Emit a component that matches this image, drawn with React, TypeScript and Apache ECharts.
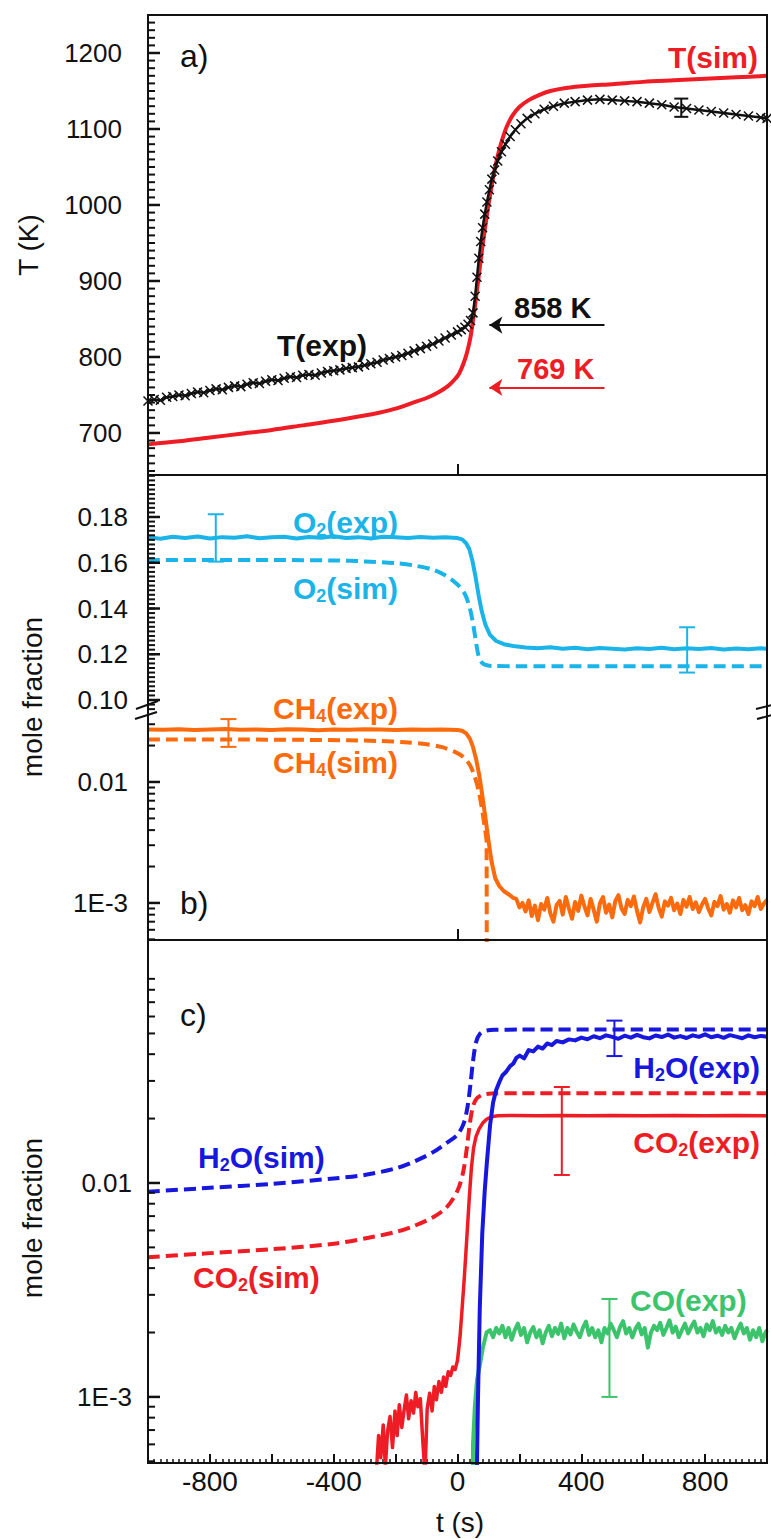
import React, { useEffect, useRef } from "react";
import * as echarts from "echarts";

const FONT = "'Liberation Sans', Arial, Helvetica, sans-serif";
const RED = "#ee1c24";
const CYAN = "#1ab4e8";
const ORANGE = "#fb6a0c";
const BLUE = "#1717dd";
const GREEN = "#3cc46c";
const INK = "#111111";

// ---------- panel a : temperature ----------
const T_EXP: [number, number][] = [
  [-1000, 742], [-980, 744], [-960, 743], [-940, 747], [-920, 748], [-900, 750], [-880, 749], [-860, 752],
  [-840, 754], [-820, 753], [-800, 756], [-780, 758], [-760, 757], [-740, 760], [-720, 762], [-700, 761],
  [-680, 764], [-660, 766], [-640, 765], [-620, 768], [-600, 770], [-580, 769], [-560, 772], [-540, 774],
  [-520, 773], [-500, 776], [-480, 777], [-460, 776], [-440, 779], [-420, 781], [-400, 782], [-380, 783],
  [-360, 785], [-340, 786], [-320, 787], [-300, 789], [-280, 791], [-260, 793], [-240, 796], [-220, 798],
  [-200, 800], [-180, 802], [-160, 805], [-140, 808], [-120, 811], [-100, 814], [-80, 817], [-60, 821],
  [-40, 825], [-20, 829], [0, 833], [12, 836], [24, 839], [34, 843], [42, 848], [50, 858], [57, 880],
  [63, 905], [69, 930], [75, 952], [81, 970], [88, 988], [95, 1004], [103, 1020], [111, 1034], [120, 1046],
  [130, 1058], [142, 1070], [155, 1080], [170, 1090], [187, 1099], [205, 1107], [225, 1114], [250, 1120],
  [280, 1126], [310, 1130], [345, 1134], [380, 1136], [420, 1138], [460, 1139], [500, 1138], [540, 1137],
  [580, 1136], [620, 1134], [660, 1132], [700, 1129], [740, 1127], [780, 1125], [820, 1123], [860, 1121],
  [900, 1119], [940, 1117], [980, 1115], [1000, 1114],
];
const T_SIM: [number, number][] = [
  [-1000, 685], [-900, 689], [-800, 694], [-700, 699], [-600, 704], [-500, 710], [-400, 716], [-300, 723],
  [-250, 727], [-200, 732], [-150, 739], [-100, 746], [-60, 754], [-30, 762], [-10, 770], [5, 778],
  [20, 792], [32, 808], [42, 826], [50, 848], [58, 872], [66, 898], [74, 924], [82, 950], [90, 973],
  [98, 995], [106, 1015], [115, 1036], [124, 1054], [134, 1071], [146, 1088], [160, 1104], [178, 1118],
  [200, 1129], [230, 1138], [265, 1145], [300, 1150], [350, 1154], [420, 1157], [500, 1159], [600, 1162],
  [700, 1164], [800, 1166], [900, 1168], [1000, 1170],
];
const T_ERR: [number, number, number][] = [[723, 1116, 1140]];
const T_TICKS = [700, 800, 900, 1000, 1100, 1200];
// arrows: [t start, t end, T level]
const ARROW_EXP = [475, 103, 842];
const ARROW_SIM = [475, 103, 760];

// ---------- panel b : O2 (linear) and CH4 (log) ----------
const O2_EXP: [number, number][] = [
  [-1000, 0.1712], [-960, 0.1705], [-920, 0.1714], [-880, 0.1708], [-840, 0.1715], [-800, 0.1706],
  [-760, 0.1712], [-720, 0.1709], [-680, 0.1716], [-640, 0.1707], [-600, 0.1711], [-560, 0.1714],
  [-520, 0.1706], [-480, 0.1713], [-440, 0.1709], [-400, 0.1716], [-360, 0.1708], [-320, 0.1712],
  [-280, 0.1706], [-240, 0.1714], [-200, 0.1711], [-160, 0.1708], [-120, 0.1713], [-80, 0.1709],
  [-40, 0.1711], [0, 0.1708], [15, 0.1702], [28, 0.1685], [38, 0.166], [48, 0.161], [58, 0.154],
  [68, 0.146], [78, 0.139], [90, 0.133], [105, 0.1285], [125, 0.1258], [150, 0.1244], [180, 0.1236],
  [220, 0.123], [260, 0.1226], [300, 0.1231], [340, 0.1224], [380, 0.1228], [420, 0.1222], [460, 0.1227],
  [500, 0.1224], [540, 0.1221], [580, 0.1226], [620, 0.1223], [660, 0.1228], [700, 0.1222], [740, 0.1226],
  [780, 0.1223], [820, 0.1227], [860, 0.1221], [900, 0.1225], [940, 0.1222], [980, 0.1226], [1000, 0.1224],
];
const O2_SIM: [number, number][] = [
  [-1000, 0.1612], [-600, 0.1612], [-400, 0.161], [-300, 0.1606], [-200, 0.1598], [-140, 0.1588],
  [-80, 0.157], [-40, 0.1545], [0, 0.1505], [25, 0.146], [40, 0.14], [50, 0.1335], [58, 0.127],
  [66, 0.1205], [75, 0.117], [88, 0.1155], [110, 0.1149], [200, 0.1148], [1000, 0.1148],
];
const O2_ERR: [number, number, number][] = [[-781, 0.1605, 0.1812], [742, 0.112, 0.1318]];
const O2_TICKS = [0.1, 0.12, 0.14, 0.16, 0.18];

const CH4_EXP: [number, number][] = [
  [-1000, 0.0272], [-950, 0.027], [-900, 0.0273], [-850, 0.0269], [-800, 0.0271], [-750, 0.0274],
  [-700, 0.027], [-650, 0.0272], [-600, 0.0269], [-550, 0.0273], [-500, 0.0271], [-450, 0.0268],
  [-400, 0.0272], [-350, 0.027], [-300, 0.0273], [-250, 0.0271], [-200, 0.0269], [-150, 0.0272],
  [-100, 0.027], [-50, 0.0271], [0, 0.0269], [15, 0.0265], [28, 0.0252], [40, 0.0228], [50, 0.0195],
  [60, 0.0155], [70, 0.0115], [80, 0.0078], [90, 0.0051], [100, 0.0033], [110, 0.0022], [122, 0.0016],
  [135, 0.00138], [150, 0.00125], [165, 0.00118], [180, 0.0011], [190, 0.00108], [200, 0.00092],
  [210, 0.001], [220, 0.00085], [230, 0.00105], [240, 0.00078], [250, 0.00095], [260, 0.00072],
  [270, 0.00098], [280, 0.00088], [290, 0.0011], [300, 0.00082], [310, 0.0007], [320, 0.00096],
  [330, 0.00104], [340, 0.0008], [350, 0.00112], [360, 0.0009], [370, 0.00074], [380, 0.00102],
  [390, 0.00086], [400, 0.00115], [410, 0.00094], [420, 0.00079], [430, 0.00108], [440, 0.00088],
  [450, 0.0007], [460, 0.00099], [470, 0.00112], [480, 0.00083], [490, 0.00097], [500, 0.00076],
  [510, 0.00104], [520, 0.00116], [530, 0.0009], [540, 0.00081], [550, 0.00106], [560, 0.00094],
  [570, 0.00113], [580, 0.00086], [590, 0.00069], [600, 0.00092], [610, 0.00108], [620, 0.00084],
  [630, 0.001], [640, 0.00118], [650, 0.00091], [660, 0.00077], [670, 0.00103], [680, 0.00095],
  [690, 0.0011], [700, 0.00087], [710, 0.00099], [720, 0.00081], [730, 0.00106], [740, 0.00093],
  [750, 0.00112], [760, 0.00089], [770, 0.00101], [780, 0.00084], [790, 0.00097], [800, 0.00108],
  [810, 0.0009], [820, 0.00079], [830, 0.00102], [840, 0.00094], [850, 0.00114], [860, 0.00088],
  [870, 0.00098], [880, 0.00083], [890, 0.00105], [900, 0.00092], [910, 0.0011], [920, 0.00087],
  [930, 0.00096], [940, 0.00081], [950, 0.00103], [960, 0.00094], [970, 0.00112], [980, 0.00089],
  [990, 0.00099], [1000, 0.00106],
];
const CH4_SIM: [number, number][] = [
  [-1000, 0.0224], [-700, 0.0224], [-500, 0.0223], [-350, 0.0221], [-250, 0.0218], [-170, 0.0213],
  [-100, 0.0205], [-50, 0.0194], [-10, 0.0178], [20, 0.016], [40, 0.0138], [55, 0.0112], [68, 0.0085],
  [80, 0.0058], [88, 0.0042], [94, 0.0032], [95, 0.000001],
];
const CH4_ERR: [number, number, number][] = [[-740, 0.0195, 0.0331]];
const B_LOG_TICKS = [0.001, 0.01];

// ---------- panel c : products (log) ----------
const H2O_SIM: [number, number][] = [
  [-1000, 0.0091], [-800, 0.0095], [-600, 0.0099], [-400, 0.0105], [-300, 0.0109], [-200, 0.0117],
  [-140, 0.0126], [-80, 0.0139], [-35, 0.0154], [0, 0.0168], [20, 0.019], [32, 0.0225], [42, 0.029],
  [50, 0.037], [60, 0.0455], [72, 0.0497], [90, 0.0514], [120, 0.052], [200, 0.0521], [1000, 0.0521],
];
const CO2_SIM: [number, number][] = [
  [-1000, 0.0045], [-800, 0.0047], [-600, 0.0049], [-400, 0.0052], [-300, 0.0055], [-200, 0.0059],
  [-140, 0.0063], [-80, 0.0069], [-35, 0.0077], [0, 0.0092], [18, 0.0112], [30, 0.0145], [40, 0.019],
  [50, 0.0228], [62, 0.0248], [80, 0.0258], [110, 0.0262], [200, 0.0263], [1000, 0.0263],
];
const CO2_EXP: [number, number][] = [
  [-262, 0.00045], [-255, 0.00066], [-248, 0.00052], [-240, 0.00074], [-233, 0.00047], [-226, 0.00069],
  [-218, 0.00081], [-210, 0.00058], [-202, 0.00086], [-195, 0.00066], [-188, 0.00092], [-180, 0.00072],
  [-172, 0.00088], [-165, 0.00102], [-158, 0.00079], [-150, 0.00096], [-142, 0.00084], [-135, 0.00105],
  [-128, 0.0009], [-120, 0.00098], [-112, 0.00062], [-105, 0.00043], [-98, 0.00088], [-90, 0.00104],
  [-82, 0.00086], [-75, 0.00112], [-68, 0.00097], [-60, 0.00118], [-52, 0.00105], [-45, 0.00124],
  [-38, 0.00112], [-30, 0.00131], [-22, 0.00126], [-15, 0.00138], [-8, 0.00134], [0, 0.00148],
  [8, 0.0019], [15, 0.0026], [22, 0.0036], [30, 0.0055], [38, 0.0085], [45, 0.0118], [52, 0.0146],
  [60, 0.0165], [70, 0.0179], [82, 0.0191], [95, 0.0199], [110, 0.0204], [130, 0.0206], [180, 0.0207],
  [260, 0.0206], [340, 0.0207], [420, 0.0206], [500, 0.0207], [600, 0.0206], [700, 0.0207], [800, 0.0206],
  [900, 0.0207], [1000, 0.0206],
];
const H2O_EXP: [number, number][] = [
  [55, 0.00001], [62, 0.0004], [66, 0.00095], [72, 0.0026], [80, 0.0058], [88, 0.0092], [95, 0.0125],
  [105, 0.0185], [115, 0.0238], [125, 0.0272], [135, 0.0296], [145, 0.0318], [158, 0.0332], [170, 0.0352],
  [180, 0.0361], [190, 0.0384], [201, 0.0394], [215, 0.0382], [230, 0.0418], [245, 0.0412], [260, 0.0434],
  [275, 0.0425], [290, 0.0449], [305, 0.0441], [320, 0.0461], [340, 0.0454], [360, 0.0469], [380, 0.0464],
  [400, 0.0478], [420, 0.047], [440, 0.0485], [460, 0.0475], [480, 0.049], [500, 0.0482], [520, 0.0472],
  [540, 0.0488], [560, 0.0478], [580, 0.0492], [600, 0.048], [620, 0.0474], [640, 0.0489], [660, 0.0481],
  [680, 0.0494], [700, 0.0478], [720, 0.0486], [740, 0.0476], [760, 0.049], [780, 0.0482], [800, 0.0495],
  [820, 0.048], [840, 0.0488], [860, 0.0477], [880, 0.0491], [900, 0.0483], [920, 0.0475], [940, 0.049],
  [960, 0.048], [980, 0.0487], [1000, 0.0483],
];
const CO_EXP: [number, number][] = [
  [45, 0.00001], [50, 0.0006], [56, 0.0009], [63, 0.0012], [72, 0.0014], [82, 0.0017], [94, 0.002],
  [105, 0.00205], [115, 0.0019], [125, 0.0021], [135, 0.00198], [145, 0.00215], [155, 0.0019], [165, 0.0021],
  [175, 0.00185], [185, 0.00205], [195, 0.0022], [205, 0.00195], [215, 0.0021], [225, 0.0018], [235, 0.002],
  [245, 0.00212], [255, 0.0019], [265, 0.00205], [275, 0.00178], [285, 0.002], [295, 0.00215], [305, 0.00192],
  [315, 0.0021], [325, 0.00197], [335, 0.0022], [345, 0.00188], [355, 0.0021], [365, 0.00196], [375, 0.00218],
  [385, 0.00202], [395, 0.0019], [405, 0.0021], [415, 0.00225], [425, 0.00195], [435, 0.0021], [445, 0.0019],
  [455, 0.00205], [465, 0.0018], [475, 0.0021], [485, 0.00198], [495, 0.0022], [505, 0.00205], [515, 0.0019],
  [525, 0.00212], [535, 0.00226], [545, 0.00198], [555, 0.0021], [565, 0.0019], [575, 0.00208], [585, 0.0022],
  [595, 0.00196], [605, 0.0021], [615, 0.0017], [625, 0.002], [635, 0.00215], [645, 0.00205], [655, 0.00222],
  [665, 0.00195], [675, 0.0021], [685, 0.00228], [695, 0.002], [705, 0.00213], [715, 0.0019], [725, 0.00205],
  [735, 0.0022], [745, 0.00198], [755, 0.00212], [765, 0.00225], [775, 0.002], [785, 0.0021], [795, 0.00192],
  [805, 0.00218], [815, 0.00205], [825, 0.00226], [835, 0.002], [845, 0.0021], [855, 0.00195], [865, 0.00215],
  [875, 0.002], [885, 0.0021], [895, 0.00188], [905, 0.00205], [915, 0.0022], [925, 0.00198], [935, 0.0021],
  [945, 0.00185], [955, 0.00205], [965, 0.0019], [975, 0.0021], [985, 0.00182], [995, 0.002], [1000, 0.00205],
];
const H2O_ERR: [number, number, number][] = [[507, 0.0392, 0.0574]];
const CO2_ERR: [number, number, number][] = [[337, 0.0109, 0.0281]];
const CO_ERR: [number, number, number][] = [[491, 0.001, 0.00287]];
const C_LOG_TICKS = [0.001, 0.01];
const X_LABELS = [-800, -400, 0, 400, 800];

// ---------- layout ----------
const L = 148;
const R = 767;
const A_TOP = 15, A_BOT = 475;
const B_TOP = 475, B_BRK = 709, B_BOT = 940;
const C_TOP = 940, C_BOT = 1463;

const A_MIN = 644.7, A_MAX = 1250;
const BU_MIN = 0.09607, BU_MAX = 0.19836;
const BL_MIN = 0.000494, BL_MAX = 0.0401;
const C_MIN = 0.000491, C_MAX = 0.1367;
const X_MIN = -1000, X_MAX = 1000;

function range(a: number, b: number, s: number) {
  const out: number[] = [];
  for (let k = 0; a + k * s <= b + 1e-12; k++) out.push(+(a + k * s).toFixed(6));
  return out;
}
function logMinor(lo: number, hi: number) {
  const out: number[] = [];
  for (let e = -5; e <= 1; e++) {
    for (let m = 2; m <= 9; m++) {
      const v = +(m * Math.pow(10, e)).toPrecision(6);
      if (v >= lo && v <= hi) out.push(v);
    }
  }
  return out;
}

const tickLine = { color: INK, width: 2 };
const noLine = { show: false, onZero: false };
const near = (a: number, b: number) => Math.abs(a - b) < b * 1e-6;
const logFmt = (v: number) => (near(v, 0.001) ? "1E-3" : near(v, 0.01) ? "0.01" : "");

const PANELS = [
  { top: A_TOP, bot: A_BOT, type: "value", min: A_MIN, max: A_MAX, major: T_TICKS, minor: range(650, 1250, 10), margin: 26, fmt: (v: number) => String(Math.round(v)) },
  { top: B_TOP, bot: B_BRK, type: "value", min: BU_MIN, max: BU_MAX, major: O2_TICKS, minor: range(0.098, 0.198, 0.002), margin: 20, fmt: (v: number) => v.toFixed(2) },
  { top: B_BRK, bot: B_BOT, type: "log", min: BL_MIN, max: BL_MAX, major: B_LOG_TICKS, minor: logMinor(BL_MIN, BL_MAX), margin: 20, fmt: logFmt },
  { top: C_TOP, bot: C_BOT, type: "log", min: C_MIN, max: C_MAX, major: C_LOG_TICKS, minor: logMinor(C_MIN, C_MAX), margin: 16, fmt: logFmt },
];

function errSeries(data: [number, number, number][], color: string, xi: number, yi: number, cap: number) {
  return {
    type: "custom", xAxisIndex: xi, yAxisIndex: yi, data, z: 5, silent: true,
    encode: { x: 0, y: [1, 2] },
    renderItem: (_p: any, api: any) => {
      const t = api.value(0);
      const top = api.coord([t, api.value(2)]);
      const bot = api.coord([t, api.value(1)]);
      const st = { stroke: color, lineWidth: 2 };
      return {
        type: "group",
        children: [
          { type: "line", shape: { x1: top[0], y1: top[1], x2: bot[0], y2: bot[1] }, style: st },
          { type: "line", shape: { x1: top[0] - cap, y1: top[1], x2: top[0] + cap, y2: top[1] }, style: st },
          { type: "line", shape: { x1: bot[0] - cap, y1: bot[1], x2: bot[0] + cap, y2: bot[1] }, style: st },
        ],
      };
    },
  };
}

function lineSeries(data: [number, number][], color: string, xi: number, yi: number, dashed: boolean, width = 4, smooth: number | boolean = false) {
  return {
    type: "line", xAxisIndex: xi, yAxisIndex: yi, data, showSymbol: false, symbol: "none",
    smooth, clip: true, z: dashed ? 3 : 4,
    lineStyle: { color, width, type: dashed ? [12, 6] : "solid", cap: "butt", join: "round" },
  };
}

function lbl(x: number, y: number, text: string, color: string, align: string, size = 30, weight = "bold") {
  return {
    type: "text", x, y, z: 30, silent: true,
    style: {
      text, fill: color, align, verticalAlign: "middle", textAlign: align, textVerticalAlign: "middle",
      fontFamily: FONT, fontSize: size, fontWeight: weight,
      rich: {
        n: { fill: color, color, fontFamily: FONT, fontSize: size, fontWeight: weight, lineHeight: 34, verticalAlign: "middle" },
        s: { fill: color, color, fontFamily: FONT, fontSize: 18, fontWeight: weight, lineHeight: 18, verticalAlign: "bottom" },
      },
    },
  };
}
function vtitle(x: number, y: number, text: string) {
  return {
    type: "text", x, y, rotation: Math.PI / 2, z: 30, silent: true,
    style: { text, fill: INK, align: "center", verticalAlign: "middle", textAlign: "center", textVerticalAlign: "middle", fontFamily: FONT, fontSize: 28 },
  };
}
function frame(top: number, bot: number) {
  return {
    type: "rect", z: 20, silent: true,
    shape: { x: L, y: top, width: R - L, height: bot - top },
    style: { fill: null, stroke: INK, lineWidth: 2 },
  };
}
function seg(x1: number, y1: number, x2: number, y2: number, width = 2) {
  return { type: "line", z: 25, silent: true, shape: { x1, y1, x2, y2 }, style: { stroke: INK, lineWidth: width } };
}

function buildOption() {
  const xBase = { type: "value", min: X_MIN, max: X_MAX, splitLine: { show: false }, axisLine: noLine };

  const grids = PANELS.map((p) => ({ left: L, top: p.top, width: R - L, height: p.bot - p.top, containLabel: false, outerBoundsMode: "none" }));

  const xAxes = [
    { ...xBase, gridIndex: 0, axisLabel: { show: false }, axisTick: { show: true, inside: true, length: 11, customValues: [0], lineStyle: tickLine } },
    { ...xBase, gridIndex: 1, axisLabel: { show: false }, axisTick: { show: false } },
    { ...xBase, gridIndex: 2, axisLabel: { show: false }, axisTick: { show: true, inside: true, length: 11, customValues: [0], lineStyle: tickLine } },
    {
      ...xBase, gridIndex: 3, interval: 200,
      axisLabel: {
        show: true, margin: 4, fontSize: 28, color: INK, fontFamily: FONT,
        formatter: (v: number) => (X_LABELS.indexOf(Math.round(v)) >= 0 ? String(Math.round(v)) : ""),
      },
      axisTick: { show: true, inside: true, length: 9, lineStyle: tickLine },
      minorTick: { show: true, splitNumber: 10, length: 4, lineStyle: { color: INK, width: 1.5 } },
    },
  ];

  const yAxes = PANELS.map((p, i) => ({
    type: p.type, gridIndex: i, min: p.min, max: p.max, position: "left",
    ...(p.type === "log" ? { logBase: 10 } : {}),
    axisLine: noLine, splitLine: { show: false }, axisTick: { show: false },
    axisLabel: { show: true, customValues: p.major, margin: p.margin, fontSize: 26, color: INK, fontFamily: FONT, formatter: p.fmt },
  }));

  return {
    animation: false,
    backgroundColor: "#ffffff",
    grid: grids,
    xAxis: xAxes,
    yAxis: yAxes,
    series: [
      // panel a
      {
        ...lineSeries(T_SIM, RED, 0, 0, false, 4, 0.3),
        markLine: {
          silent: true, symbol: ["none", "arrow"], symbolSize: 13, label: { show: false }, animation: false,
          data: [
            [{ coord: [ARROW_EXP[0], ARROW_EXP[2]], lineStyle: { color: INK, width: 2, type: "solid" } }, { coord: [ARROW_EXP[1], ARROW_EXP[2]] }],
            [{ coord: [ARROW_SIM[0], ARROW_SIM[2]], lineStyle: { color: RED, width: 2, type: "solid" } }, { coord: [ARROW_SIM[1], ARROW_SIM[2]] }],
          ],
        },
      },
      {
        type: "line", xAxisIndex: 0, yAxisIndex: 0, data: T_EXP, z: 4, clip: true,
        showSymbol: true, symbol: "path://M0,0L10,10M10,0L0,10", symbolSize: 9,
        itemStyle: { color: INK, borderColor: INK, borderWidth: 1.5 },
        lineStyle: { color: INK, width: 2.5 },
      },
      errSeries(T_ERR, INK, 0, 0, 7),
      // panel b upper
      lineSeries(O2_SIM, CYAN, 1, 1, true, 4, 0.3),
      lineSeries(O2_EXP, CYAN, 1, 1, false, 4),
      errSeries(O2_ERR, CYAN, 1, 1, 8),
      // panel b lower
      lineSeries(CH4_SIM, ORANGE, 2, 2, true, 4, 0.3),
      lineSeries(CH4_EXP, ORANGE, 2, 2, false, 4),
      errSeries(CH4_ERR, ORANGE, 2, 2, 8),
      // panel c
      lineSeries(H2O_SIM, BLUE, 3, 3, true, 4, 0.3),
      lineSeries(CO2_SIM, RED, 3, 3, true, 4, 0.3),
      lineSeries(CO2_EXP, RED, 3, 3, false, 3.5),
      lineSeries(CO_EXP, GREEN, 3, 3, false, 4),
      lineSeries(H2O_EXP, BLUE, 3, 3, false, 4),
      errSeries(H2O_ERR, BLUE, 3, 3, 8),
      errSeries(CO2_ERR, RED, 3, 3, 8),
      errSeries(CO_ERR, GREEN, 3, 3, 8),
    ],
    graphic: [
      frame(A_TOP, A_BOT),
      frame(B_TOP, B_BOT),
      frame(C_TOP, C_BOT),
      // axis break marks
      seg(136, B_BRK, 158, B_BRK - 8),
      seg(135, B_BRK + 10, 157, B_BRK + 3),
      seg(756, B_BRK, 772, B_BRK - 4),
      seg(757, B_BRK + 10, 772, B_BRK + 6),
      // axis titles
      vtitle(28, 245, "T (K)"),
      vtitle(32, 697, "mole fraction"),
      vtitle(32, 1218, "mole fraction"),
      { type: "text", x: 460, y: 1522, z: 30, silent: true, style: { text: "t (s)", fill: INK, align: "center", verticalAlign: "middle", textAlign: "center", textVerticalAlign: "middle", fontFamily: FONT, fontSize: 28 } },
      // panel a annotations
      lbl(180, 56, "a)", INK, "left", 32, "normal"),
      lbl(758, 57, "T(sim)", RED, "right"),
      lbl(277, 345, "T(exp)", INK, "left"),
      lbl(514, 308, "858 K", INK, "left", 29),
      lbl(517, 369, "769 K", RED, "left", 29),
      // panel b annotations
      lbl(398, 522, "{n|O}{s|2}{n|(exp)}", CYAN, "right"),
      lbl(398, 588, "{n|O}{s|2}{n|(sim)}", CYAN, "right"),
      lbl(398, 708, "{n|CH}{s|4}{n|(exp)}", ORANGE, "right"),
      lbl(398, 762, "{n|CH}{s|4}{n|(sim)}", ORANGE, "right"),
      lbl(180, 903, "b)", INK, "left", 32, "normal"),
      // panel c annotations
      lbl(180, 1015, "c)", INK, "left", 32, "normal"),
      lbl(198, 1157, "{n|H}{s|2}{n|O(sim)}", BLUE, "left"),
      lbl(193, 1277, "{n|CO}{s|2}{n|(sim)}", RED, "left"),
      lbl(760, 1067, "{n|H}{s|2}{n|O(exp)}", BLUE, "right"),
      lbl(760, 1142, "{n|CO}{s|2}{n|(exp)}", RED, "right"),
      lbl(630, 1300, "CO(exp)", GREEN, "left"),
    ] as any[],
  };
}

export default function App() {
  const ref = useRef<HTMLDivElement>(null);
  useEffect(() => {
    if (!ref.current) return;
    const chart = echarts.init(ref.current, undefined, { renderer: "svg" });
    const opt: any = buildOption();
    chart.setOption(opt);
    // y-axis ticks: positions taken from each panel's own y scale
    const ticks: any[] = [];
    PANELS.forEach((p, i) => {
      const add = (v: number, len: number, w: number) => {
        const pt = chart.convertToPixel({ xAxisIndex: i, yAxisIndex: i } as any, [X_MIN, v]) as any;
        if (!pt || !isFinite(pt[0]) || !isFinite(pt[1])) return;
        ticks.push(seg(pt[0], pt[1], pt[0] + len, pt[1], w));
      };
      p.minor.forEach((v) => add(v, 7, 2));
      p.major.forEach((v) => add(v, 12, 2.5));
    });
    opt.graphic = [...opt.graphic, ...ticks];
    chart.setOption(opt, true);
    return () => chart.dispose();
  }, []);
  return (
    <div
      ref={ref}
      style={{ position: "absolute", left: 0, top: 0, width: 771, height: 1539, background: "#fff" }}
    />
  );
}
